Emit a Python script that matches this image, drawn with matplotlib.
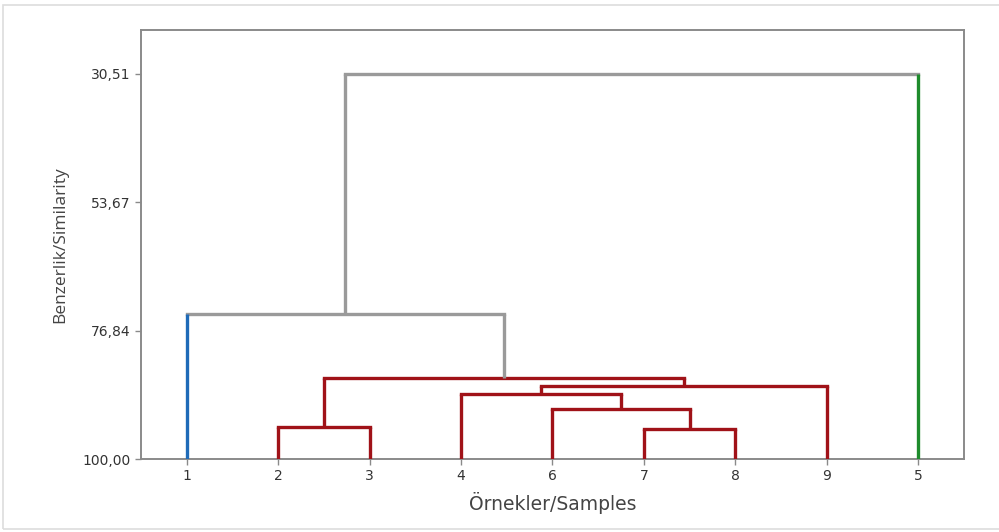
import matplotlib
matplotlib.use("Agg")
import matplotlib.pyplot as plt
from matplotlib.patches import Rectangle

# leaves in the order they appear along the x axis
leaves = ["1", "2", "3", "4", "6", "7", "8", "9", "5"]

# merge steps: (left child, right child, similarity level)
# children are leaf labels or earlier clusters "c1", "c2", ...
links = [
    ("2", "3", 94.2),      # c1
    ("7", "8", 94.6),      # c2
    ("6", "c2", 91.0),     # c3
    ("4", "c3", 88.3),     # c4
    ("c4", "9", 86.8),     # c5
    ("c1", "c5", 85.4),    # c6
    ("1", "c6", 73.8),     # c7
    ("c7", "5", 30.51),    # c8
]

ytick_values = [30.51, 53.67, 76.84, 100.00]

RED = "#a01218"
GRAY = "#9a9a9a"
BLUE = "#1f6bb8"
GREEN = "#1e8c2c"
# colours of (left leg, bar, right leg) for each merge
link_colors = [(RED, RED, RED)] * 6 + [(BLUE, GRAY, GRAY), (GRAY, GRAY, GREEN)]

plt.rcParams['font.family'] = ['DejaVu Sans']

fig = plt.figure(figsize=(9.99, 5.32), dpi=100)
fig.patches.append(Rectangle((0.003, 0.006), 0.999, 0.984, transform=fig.transFigure,
                             fill=False, edgecolor="#dddddd", lw=1.2))
ax = fig.add_axes([0.1411, 0.1372, 0.8239, 0.8064])

# node positions: leaves at 1..n, clusters at the midpoint of their children
pos = {name: (i + 1, 100.0) for i, name in enumerate(leaves)}
for k, ((a, b, h), cols) in enumerate(zip(links, link_colors)):
    xa, ya = pos[a]
    xb, yb = pos[b]
    ax.plot([xa, xa], [ya, h], color=cols[0], lw=2.4, solid_capstyle="butt", zorder=3)
    ax.plot([xb, xb], [yb, h], color=cols[2], lw=2.4, solid_capstyle="butt", zorder=3)
    ax.plot([xa, xb], [h, h], color=cols[1], lw=2.4, solid_capstyle="projecting", zorder=2)
    pos["c%d" % (k + 1)] = ((xa + xb) / 2, h)

ax.set_xlim(0.5, 9.5)
ax.set_ylim(100, 22.57)
ax.set_xticks(range(1, len(leaves) + 1))
ax.set_xticklabels(leaves)
ax.set_yticks(ytick_values)
ax.set_yticklabels([("%.2f" % v).replace(".", ",") for v in ytick_values])

for s in ax.spines.values():
    s.set_color("#8a8a8a")
    s.set_linewidth(1.4)
ax.tick_params(colors="#8a8a8a", labelcolor="#333333", labelsize=10, length=4, width=1)

ax.set_xlabel("Örnekler/Samples", fontsize=13.5, color="#444444", labelpad=6)
ax.set_ylabel("Benzerlik/Similarity", fontsize=12.5, color="#444444", labelpad=10,
              family=["Open Sans", "DejaVu Sans"])

fig.savefig("out.png", dpi=100)
